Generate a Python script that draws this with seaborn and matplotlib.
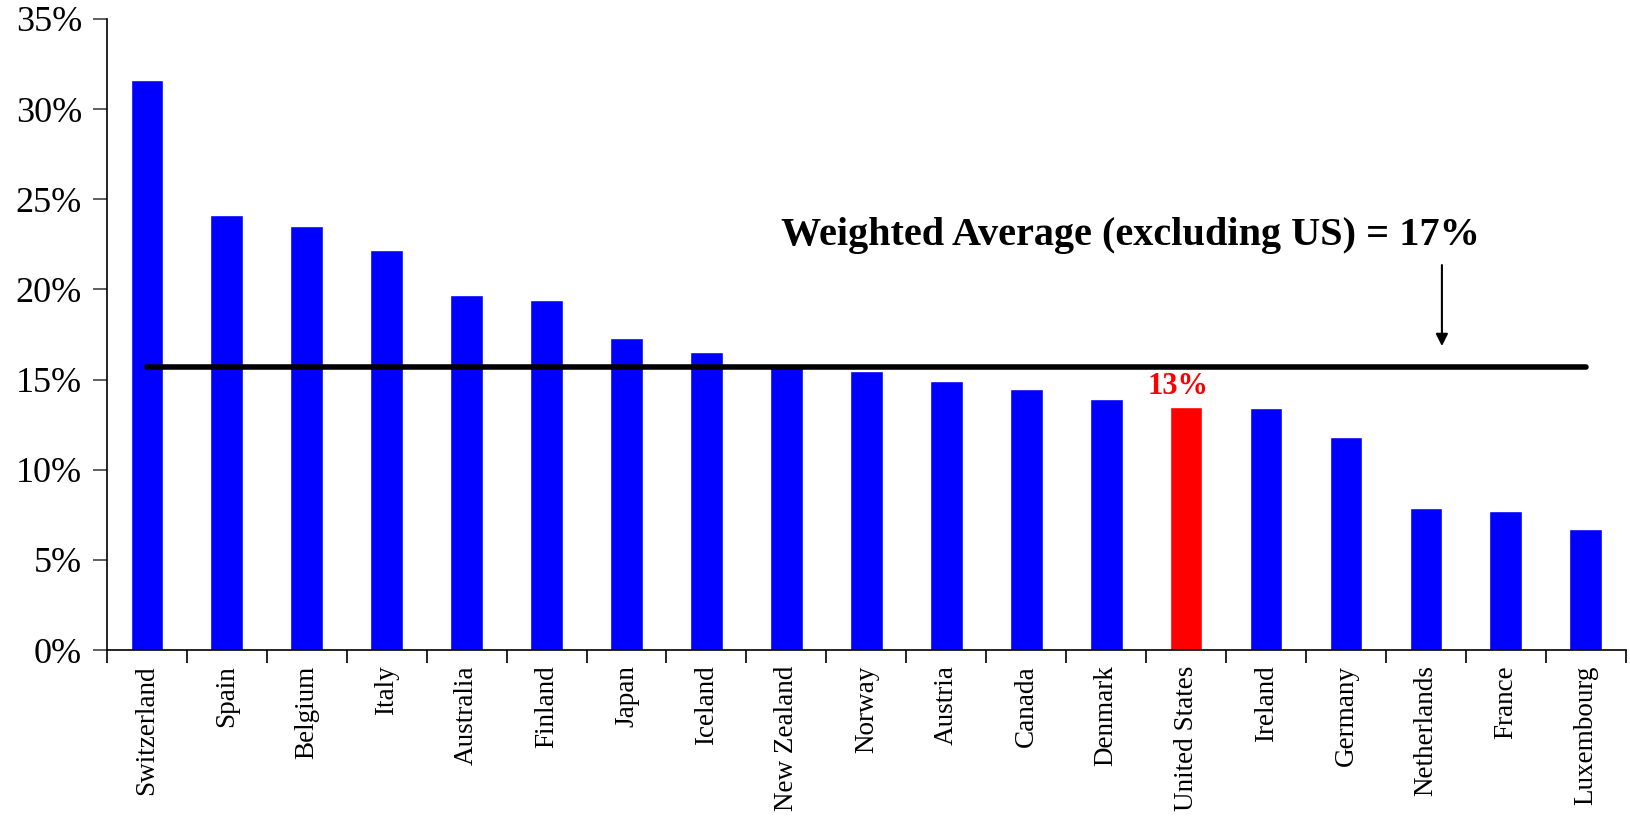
import numpy as np
import matplotlib
matplotlib.use("Agg")
import matplotlib.pyplot as plt
import seaborn as sns

countries = ["Switzerland", "Spain", "Belgium", "Italy", "Australia", "Finland",
             "Japan", "Iceland", "New Zealand", "Norway", "Austria", "Canada",
             "Denmark", "United States", "Ireland", "Germany", "Netherlands",
             "France", "Luxembourg"]
shares = [31.6, 24.1, 23.5, 22.2, 19.7, 19.4, 17.3, 16.5, 15.7, 15.5, 14.9, 14.5,
          13.9, 13.5, 13.4, 11.8, 7.9, 7.7, 6.7]
highlight = "United States"
weighted_avg = 15.7
avg_label = "Weighted Average (excluding US) = 17%"
us_label = "13%"
y_ticks = [0, 5, 10, 15, 20, 25, 30, 35]

sns.set_theme(style="white")
plt.rcParams["font.family"] = ["Liberation Serif", "DejaVu Serif"]

fig = plt.figure(figsize=(16.3, 8.19), dpi=100)
ax = fig.add_axes([0.0656, 0.2063, 0.9318, 0.7707])

colors = {c: ("#ff0000" if c == highlight else "#0000ff") for c in countries}
sns.barplot(x=countries, y=shares, hue=countries, palette=colors, legend=False,
            width=0.41, saturation=1, ax=ax)

ax.set_ylim(0, 35)
ax.set_xlim(-0.5, len(countries) - 0.5)
ax.set_yticks(y_ticks)
ax.set_yticklabels([f"{t}%" for t in y_ticks], fontsize=26, color="black")
ax.set_xticks(range(len(countries)))
ax.set_xticklabels(countries, rotation=90, fontsize=19.5, color="black",
                   ha="center", va="top")
ax.set_xticks(np.arange(-0.5, len(countries), 1), minor=True)
ax.tick_params(axis="x", which="major", length=0, pad=11)
ax.tick_params(axis="x", which="minor", length=9, width=1.2, color="black",
               direction="out", bottom=True)
ax.tick_params(axis="y", length=10, width=1.2, color="#444444", direction="out",
               left=True, pad=8)

for side in ["top", "right"]:
    ax.spines[side].set_visible(False)
for side in ["left", "bottom"]:
    ax.spines[side].set_color("black")
    ax.spines[side].set_linewidth(1.2)
ax.grid(False)

# weighted average line across all countries
ax.plot([0, len(countries) - 1], [weighted_avg, weighted_avg], color="black",
        lw=4, solid_capstyle="round", zorder=5)

# annotation with arrow pointing to the average line
ax.text(12.3, 23.0, avg_label, fontsize=29, fontweight="bold", color="black",
        ha="center", va="center")
ax.annotate("", xy=(16.2, 16.7), xytext=(16.2, 21.5),
            arrowprops=dict(arrowstyle="-|>", color="black", lw=1.5,
                            mutation_scale=18))

us_idx = countries.index(highlight)
ax.text(us_idx - 0.1, shares[us_idx] + 0.3, us_label, fontsize=22,
        fontweight="bold", color="#ff0000", ha="center", va="bottom")

fig.savefig("out.png", dpi=100)
